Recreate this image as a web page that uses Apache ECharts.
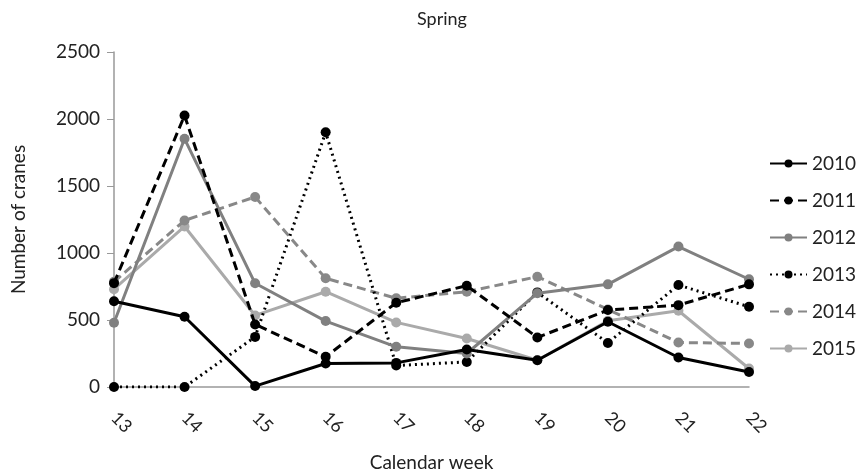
<!DOCTYPE html>
<html><head><meta charset="utf-8">
<script src="https://cdn.jsdelivr.net/npm/echarts@6/dist/echarts.min.js"></script>
<style>html,body{margin:0;padding:0;background:#fff}#c{width:859px;height:475px}</style>
</head><body><div id="c"></div>
<script>
const weeks = ['13','14','15','16','17','18','19','20','21','22'];
const y2010 = [640, 524, 7, 175, 180, 280, 200, 487, 220, 112];
const y2011 = [775, 2026, 467, 225, 629, 756, 370, 574, 611, 766];
const y2012 = [479, 1852, 774, 492, 300, 250, 700, 766, 1048, 804];
const y2013 = [0, 0, 374, 1901, 160, 187, 706, 329, 761, 599];
const y2014 = [785, 1243, 1418, 811, 662, 711, 823, 579, 332, 325];
const y2015 = [730, 1198, 534, 711, 482, 362, 200, 494, 569, 138];
const yTicks = [0, 500, 1000, 1500, 2000, 2500];

const font = 'Lato, "Open Sans", sans-serif';
function ser(name, data, color, type, z) {
  return {
    name, type: 'line', data, z,
    symbol: 'circle', symbolSize: 10,
    itemStyle: { color: color },
    lineStyle: { color: color, width: 3, type: type },
    emphasis: { disabled: true }
  };
}
const chart = echarts.init(document.getElementById('c'));
chart.setOption({
  animation: false,
  title: { text: 'Spring', left: 437, top: 5, textAlign: 'center',
    textStyle: { fontFamily: font, fontWeight: 'normal', fontSize: 18, color: '#222' } },
  grid: { left: 114, right: 110, top: 52, bottom: 88, outerBoundsMode: 'none', containLabel: false },
  legend: {
    orient: 'vertical', left: 764, top: 149, itemGap: 18, itemWidth: 37, itemHeight: 10,
    textStyle: { fontFamily: font, fontSize: 19, color: '#222' },
    data: ['2010','2011','2012','2013','2014','2015']
  },
  xAxis: {
    type: 'category', data: weeks, boundaryGap: false,
    name: 'Calendar week', nameLocation: 'middle', nameGap: 66,
    nameTextStyle: { fontFamily: font, fontSize: 19, color: '#222' },
    axisLine: { lineStyle: { color: '#999', width: 1.5 } },
    axisTick: { show: false },
    axisLabel: { rotate: -45, fontFamily: font, fontSize: 18, color: '#222', margin: 28 }
  },
  yAxis: {
    type: 'value', min: 0, max: 2500, interval: 500,
    name: 'Number of cranes', nameLocation: 'middle', nameGap: 86,
    nameTextStyle: { fontFamily: font, fontSize: 19, color: '#222' },
    axisLine: { show: true, lineStyle: { color: '#999', width: 1.5 } },
    axisTick: { show: true, length: 7, lineStyle: { color: '#999' } },
    splitLine: { show: false },
    axisLabel: { fontFamily: font, fontSize: 19, color: '#222', margin: 14,
      formatter: v => yTicks.includes(v) ? String(v) : '' }
  },
  series: [
    ser('2010', y2010, '#000000', 'solid', 6),
    ser('2011', y2011, '#000000', [9, 5], 5),
    ser('2012', y2012, '#808080', 'solid', 4),
    ser('2013', y2013, '#000000', [2, 4], 3),
    ser('2014', y2014, '#888888', [9, 5], 2),
    ser('2015', y2015, '#aaaaaa', 'solid', 1)
  ]
});
</script></body></html>
